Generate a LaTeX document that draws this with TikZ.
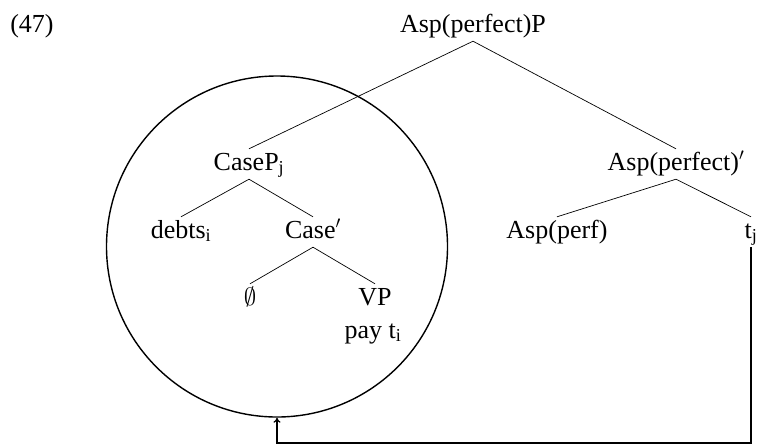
\documentclass[tikz,border=0pt]{standalone}
\usepackage{fontspec}
\setmainfont{Liberation Serif}
\usepackage{amsmath}
\usetikzlibrary{arrows.meta}

\begin{document}
\begin{tikzpicture}[x=1pt, y=-1pt, >={To[length=5pt, width=7pt]}, every node/.style={font=\fontsize{26}{30}\selectfont, anchor=base, text height=18pt, text depth=6pt, inner sep=3pt}, branch/.style={line width=0.7pt}]
				\useasboundingbox (0, 0) rectangle (759, 445);
				\node (ex) at (32, 32) {(47)};
				\node (root) at (473, 32) {Asp(perfect)P};
				\node (casep) at (249, 170) {CaseP\textsubscript{j}};
				\node (aspbar) at (676, 170) {Asp(perfect)$'$};
				\node (debts) at (181, 238) {debts\textsubscript{i}};
				\node (casebar) at (313, 238) {Case$'$};
				\node (asp) at (557, 238) {Asp(perf)};
				\node (tj) at (751, 238) {t\textsubscript{j}};
				\node (empty) at (250, 305) {$\emptyset$};
				\node (vp) at (375, 305) {VP};
				\node (pay) at (373, 338) {pay t\textsubscript{i}};
				\node[draw, circle, anchor=center, line width=1.4pt, minimum size=341pt, inner sep=0pt, text height=, text depth=] (circ) at (277, 246.5) {};
				\coordinate (bend) at (277, 443);
				\draw[branch] (root.south) to (casep.north);
				\draw[branch] (root.south) to (aspbar.north);
				\draw[branch] (casep.south) to (debts.north);
				\draw[branch] (casep.south) to (casebar.north);
				\draw[branch] (casebar.south) to (empty.north);
				\draw[branch] (casebar.south) to (vp.north);
				\draw[branch] (aspbar.south) to (asp.north);
				\draw[branch] (aspbar.south) to (tj.north);
				\draw[->, line width=1.2pt] (tj.south) |- (bend) to (circ.south);
			\end{tikzpicture}
\end{document}
